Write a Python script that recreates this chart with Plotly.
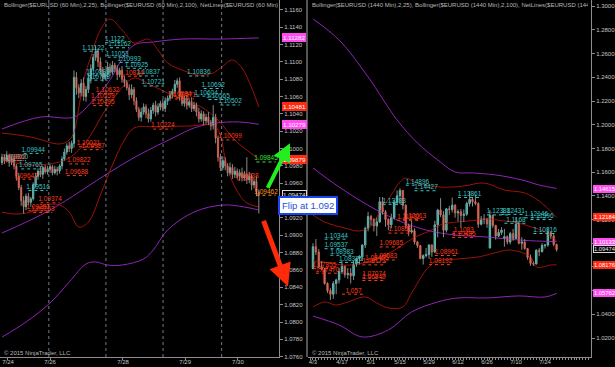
import plotly.graph_objects as go

# ================= LEFT PANEL : EURUSD 60 Min =================
h_first_open = 1.0984
h_close = [1.0990, 1.0986, 1.0992, 1.0984, 1.0988, 1.0980, 1.0968, 1.0955, 1.0940, 1.0933,
           1.0945, 1.0938, 1.0942, 1.0958, 1.0968, 1.0974, 1.0970, 1.0978, 1.0973, 1.0976,
           1.0979, 1.0972, 1.0976, 1.0974, 1.0980, 1.0988, 1.0996, 1.1003, 1.1000, 1.1006,
           1.1082, 1.1070, 1.1064, 1.1075, 1.1060, 1.1068, 1.1080, 1.1092, 1.1105, 1.1112,
           1.1100, 1.1090, 1.1082, 1.1086, 1.1094, 1.1088, 1.1096, 1.1092, 1.1085, 1.1090,
           1.1080, 1.1076, 1.1070, 1.1062, 1.1068, 1.1055, 1.1045, 1.1036, 1.1042, 1.1048,
           1.1040, 1.1034, 1.1044, 1.1050, 1.1042, 1.1048, 1.1052, 1.1046, 1.1055, 1.1058,
           1.1062, 1.1066, 1.1074, 1.1078, 1.1060, 1.1052, 1.1058, 1.1050, 1.1054, 1.1046,
           1.1050, 1.1042, 1.1034, 1.1040, 1.1032, 1.1036, 1.1030, 1.1026, 1.1036, 1.1012,
           1.0990, 1.0978, 1.0986, 1.0980, 1.0972, 1.0978, 1.0970, 1.0974, 1.0968, 1.0972,
           1.0966, 1.0970, 1.0964, 1.0968, 1.0958, 1.0962, 1.0950, 1.0947]
h_wick_up_pips = [4, 3, 5, 2, 4, 3, 2, 4, 3, 5,
                  3, 4, 2, 3, 4, 3, 5, 2, 3, 4,
                  3, 2, 4, 3, 2, 3, 4, 3, 5, 3,
                  8, 6, 4, 5, 7, 4, 6, 5, 4, 6,
                  3, 5, 4, 3, 6, 4, 5, 3, 4, 3,
                  5, 4, 3, 4, 6, 3, 4, 3, 5, 4,
                  3, 6, 4, 3, 5, 4, 3, 5, 4, 3,
                  4, 3, 5, 3, 4, 5, 3, 4, 3, 5,
                  4, 3, 5, 4, 3, 4, 6, 3, 14, 4,
                  3, 4, 5, 4, 3, 6, 4, 5, 3, 4,
                  6, 4, 20, 5, 3, 4, 6, 3]
h_wick_dn_pips = [3, 4, 2, 5, 3, 4, 5, 3, 6, 8,
                  4, 3, 5, 2, 3, 4, 3, 5, 2, 3,
                  4, 3, 2, 5, 3, 4, 2, 3, 4, 5,
                  5, 8, 6, 4, 5, 6, 4, 5, 3, 4,
                  6, 4, 5, 3, 4, 5, 3, 4, 6, 3,
                  4, 5, 3, 6, 4, 5, 3, 4, 5, 3,
                  5, 4, 3, 4, 5, 3, 4, 3, 4, 5,
                  3, 4, 3, 4, 5, 3, 4, 5, 3, 4,
                  3, 5, 4, 3, 5, 4, 3, 5, 4, 6,
                  5, 4, 3, 5, 4, 3, 5, 4, 3, 5,
                  4, 3, 5, 4, 6, 4, 5, 22]
h_tick_pos = [2.5, 20, 50.4, 76.3, 98.3]
h_tick_labels = ["7/24", "7/26", "7/28", "7/29", "7/30"]
h_day_breaks = [19.5, 43.3, 67.1, 91.5]

h_bb25_up_x = [0, 12, 24, 28, 30, 32, 34, 37, 41, 45, 50, 55, 58, 61, 65, 69, 76, 82, 88, 92, 96, 100, 104, 107]
h_bb25_up = [1.10179, 1.10133, 1.10052, 1.10098, 1.10190, 1.10467, 1.10790, 1.11055, 1.11366, 1.11493,
             1.11366, 1.11216, 1.11239, 1.11262, 1.11136, 1.10986, 1.10894, 1.10847, 1.10871, 1.10951,
             1.11020, 1.10928, 1.10698, 1.10479]
h_bb25_mid_x = [0, 12, 24, 28, 32, 37, 41, 46, 51, 55, 62, 69, 76, 83, 90, 97, 107]
h_bb25_mid = [1.09868, 1.09810, 1.09845, 1.09891, 1.09983, 1.10156, 1.10352, 1.10559, 1.10732, 1.10813,
              1.10732, 1.10640, 1.10559, 1.10479, 1.10329, 1.10098, 1.09879]
h_bb25_lo_x = [0, 5, 12, 18, 24, 28, 32, 36, 41, 46, 51, 55, 66, 78, 89, 94, 99, 102, 107]
h_bb25_lo = [1.09268, 1.09245, 1.09268, 1.09349, 1.09349, 1.09268, 1.09095, 1.09153, 1.09464, 1.09810,
             1.10098, 1.10237, 1.10248, 1.10260, 1.10248, 1.09752, 1.09464, 1.09372, 1.09326]
h_bb100_up_x = [0, 16, 30, 37, 45, 49, 55, 63, 75, 91, 107]
h_bb100_up = [1.10225, 1.10363, 1.10363, 1.10525, 1.10790, 1.10986, 1.11193, 1.11228, 1.11262, 1.11262, 1.11275]
h_bb100_mid_x = [0, 20, 45, 57, 72, 80, 89, 99, 107]
h_bb100_mid = [1.09026, 1.09291, 1.09729, 1.09925, 1.10133, 1.10237, 1.10294, 1.10306, 1.10279]
h_bb100_lo_x = [0, 10, 20, 28, 35, 39, 44, 50, 59, 63, 69, 80, 92, 101, 107]
h_bb100_lo = [1.07827, 1.08000, 1.08219, 1.08461, 1.08669, 1.08692, 1.08657, 1.08657, 1.08727, 1.08830,
              1.09061, 1.09268, 1.09349, 1.09326, 1.09291]

h_net_x = [38, 47, 49, 48, 53, 56, 40, 40, 61, 63, 82, 88, 85, 90, 95, 13, 6, 12, 15,
           54, 44, 42, 42, 74, 76, 67, 95, 36, 38, 32, 31, 5, 10, 20, 15, 17, 102,
           110, 110]
h_net_text = ["1.11122", "1.1122", "1.11162", "1.11053", "1.10993", "1.10925", "1.10839", "1.10788",
              "1.10837", "1.10721", "1.10836", "1.10692", "1.10604", "1.10565", "1.10502", "1.09944",
              "1.09860", "1.09765", "1.09516",
              "1.10834", "1.10632", "1.10559", "1.10495", "1.10584", "1.10571", "1.10224", "1.10099",
              "1.10021", "1.09987", "1.09822", "1.09688", "1.09862", "1.09647", "1.09374", "1.09281",
              "1.09263", "1.09638",
              "1.09462", "1.09845"]
h_net_kind = ["c"] * 19 + ["r"] * 18 + ["o", "g"]

h_tag_text = ["1.11282", "1.10481", "1.10279", "1.09879", "1.09474"]
h_tag_kind = ["m", "r", "m", "r", "k"]

# ================= RIGHT PANEL : EURUSD 1440 Min =================
d_dates = ["4/3", "4/6", "4/7", "4/8", "4/9", "4/10", "4/13", "4/14", "4/15", "4/16", "4/17", "4/20",
           "4/21", "4/22", "4/23", "4/24", "4/27", "4/28", "4/29", "4/30", "5/1", "5/4", "5/5", "5/6",
           "5/7", "5/8", "5/11", "5/12", "5/13", "5/14", "5/15", "5/18", "5/19", "5/20", "5/21", "5/22",
           "5/25", "5/26", "5/27", "5/28", "5/29", "6/1", "6/2", "6/3", "6/4", "6/5", "6/8", "6/9",
           "6/10", "6/11", "6/12", "6/15", "6/16", "6/17", "6/18", "6/19", "6/22", "6/23", "6/24",
           "6/25", "6/26", "6/29", "6/30", "7/1", "7/2", "7/3", "7/6", "7/7", "7/8", "7/9", "7/10",
           "7/13", "7/14", "7/15", "7/16", "7/17", "7/20", "7/21", "7/22", "7/23", "7/24", "7/27",
           "7/28", "7/29", "7/30"]
d_open = [1.0785, 1.0970, 1.0925, 1.0800, 1.0780, 1.0660, 1.0600, 1.0570, 1.0660, 1.0690, 1.0760, 1.0805,
          1.0735, 1.0745, 1.0725, 1.0825, 1.0870, 1.0885, 1.0985, 1.1125, 1.1225, 1.1200, 1.1145, 1.1180,
          1.1350, 1.1265, 1.1200, 1.1155, 1.1215, 1.1345, 1.1400, 1.1445, 1.1320, 1.1150, 1.1095, 1.1105,
          1.1010, 1.0980, 1.0870, 1.0895, 1.0905, 1.0985, 1.0925, 1.1155, 1.1280, 1.1240, 1.1110, 1.1290,
          1.1285, 1.1320, 1.1255, 1.1265, 1.1235, 1.1245, 1.1335, 1.1370, 1.1350, 1.1335, 1.1160,
          1.1205, 1.1200, 1.0960, 1.1235, 1.1150, 1.1060, 1.1090, 1.1040, 1.1055, 1.1010, 1.1080, 1.1040,
          1.1160, 1.1000, 1.1010, 1.0955, 1.0880, 1.0830, 1.0825, 1.0940, 1.0930, 1.0980, 1.0985,
          1.1090, 1.1060, 1.0990]
d_high = [1.1000, 1.1035, 1.0950, 1.0850, 1.0790, 1.0670, 1.0620, 1.0680, 1.0700, 1.0790, 1.0850, 1.0810,
          1.0790, 1.0790, 1.0850, 1.0880, 1.0900, 1.0990, 1.1140, 1.1265, 1.1240, 1.1210, 1.1215, 1.1390,
          1.1390, 1.1280, 1.1210, 1.1250, 1.1365, 1.1445, 1.1465, 1.1450, 1.1330, 1.1165, 1.1190, 1.1125,
          1.1020, 1.0985, 1.0905, 1.0960, 1.0990, 1.0990, 1.1190, 1.1290, 1.1380, 1.1270, 1.1295, 1.1315,
          1.1385, 1.1330, 1.1285, 1.1290, 1.1285, 1.1350, 1.1435, 1.1385, 1.1410, 1.1345, 1.1230,
          1.1245, 1.1215, 1.1280, 1.1240, 1.1155, 1.1120, 1.1135, 1.1120, 1.1065, 1.1095, 1.1120, 1.1215,
          1.1190, 1.1050, 1.1035, 1.0960, 1.0905, 1.0845, 1.0950, 1.0960, 1.1000, 1.0990, 1.1130,
          1.1095, 1.1080, 1.0995]
d_low = [1.0780, 1.0900, 1.0790, 1.0770, 1.0650, 1.0580, 1.0520, 1.0530, 1.0570, 1.0660, 1.0740, 1.0710,
         1.0700, 1.0660, 1.0690, 1.0800, 1.0820, 1.0850, 1.0960, 1.1100, 1.1150, 1.1100, 1.1060, 1.1170,
         1.1240, 1.1140, 1.1110, 1.1125, 1.1200, 1.1320, 1.1330, 1.1285, 1.1120, 1.1060, 1.1080, 1.0990,
         1.0960, 1.0865, 1.0820, 1.0880, 1.0870, 1.0885, 1.0920, 1.1050, 1.1220, 1.1050, 1.1090, 1.1240,
         1.1260, 1.1215, 1.1185, 1.1135, 1.1180, 1.1230, 1.1310, 1.1310, 1.1320, 1.1130, 1.1150,
         1.1160, 1.1130, 1.0955, 1.1130, 1.1030, 1.1050, 1.1070, 1.0970, 1.0990, 1.0990, 1.1020, 1.1040,
         1.0990, 1.0945, 1.0945, 1.0860, 1.0810, 1.0808, 1.0820, 1.0890, 1.0920, 1.0955, 1.0970,
         1.1035, 1.0975, 1.0930]
d_close = [1.0970, 1.0925, 1.0800, 1.0780, 1.0660, 1.0600, 1.0570, 1.0660, 1.0690, 1.0760, 1.0805, 1.0735,
           1.0745, 1.0725, 1.0825, 1.0870, 1.0885, 1.0985, 1.1125, 1.1225, 1.1200, 1.1145, 1.1180, 1.1350,
           1.1265, 1.1200, 1.1155, 1.1215, 1.1345, 1.1400, 1.1445, 1.1320, 1.1150, 1.1095, 1.1105, 1.1010,
           1.0980, 1.0870, 1.0895, 1.0905, 1.0985, 1.0925, 1.1155, 1.1280, 1.1240, 1.1110, 1.1290, 1.1285,
           1.1320, 1.1255, 1.1265, 1.1235, 1.1245, 1.1335, 1.1370, 1.1350, 1.1335, 1.1160, 1.1205,
           1.1200, 1.1165, 1.1235, 1.1150, 1.1060, 1.1090, 1.1110, 1.1055, 1.1010, 1.1080, 1.1040, 1.1160,
           1.1000, 1.1010, 1.0955, 1.0880, 1.0830, 1.0825, 1.0940, 1.0930, 1.0980, 1.0985, 1.1090,
           1.1060, 1.0990, 1.0947]
d_tick_labels = ["4/3", "4/17", "5/1", "5/15", "5/29", "6/12", "6/26", "7/10", "7/24"]

d_bb25_up_x = [0, 4, 11, 16, 20, 23, 27, 30, 32, 35, 44, 52, 59, 66, 73, 78, 84]
d_bb25_up = [1.1238, 1.1179, 1.1128, 1.1103, 1.1145, 1.1263, 1.1407, 1.1517, 1.1550, 1.1517, 1.1474,
             1.1483, 1.1508, 1.1449, 1.1424, 1.1356, 1.1218]
d_bb25_mid_x = [0, 4, 11, 16, 20, 24, 28, 31, 35, 40, 44, 50, 55, 60, 65, 70, 75, 80, 84]
d_bb25_mid = [1.0850, 1.0840, 1.0815, 1.0825, 1.0850, 1.0890, 1.0940, 1.0985, 1.1050, 1.1100, 1.1155,
              1.1180, 1.1190, 1.1205, 1.1190, 1.1175, 1.1140, 1.1095, 1.1020]
d_bb25_lo_x = [0, 4, 8, 12, 18, 22, 26, 31, 34, 39, 42, 50, 57, 64, 68, 75, 77, 82, 84]
d_bb25_lo = [1.0462, 1.0504, 1.0478, 1.0504, 1.0546, 1.0496, 1.0453, 1.0462, 1.0580, 1.0774, 1.0842,
             1.0867, 1.0884, 1.0926, 1.0943, 1.0884, 1.0799, 1.0816, 1.0818]
d_bb100_up_x = [0, 9, 19, 29, 36, 43, 49, 55, 63, 72, 78, 84]
d_bb100_up = [1.2892, 1.2715, 1.2403, 1.2040, 1.1846, 1.1703, 1.1601, 1.1593, 1.1576, 1.1534, 1.1491, 1.1462]
d_bb100_mid_x = [0, 9, 20, 29, 39, 49, 60, 72, 84]
d_bb100_mid = [1.1635, 1.1474, 1.1306, 1.1196, 1.1111, 1.1069, 1.1052, 1.1025, 1.1013]
d_bb100_lo_x = [0, 9, 17, 26, 34, 43, 50, 60, 71, 80, 84]
d_bb100_lo = [1.0385, 1.0310, 1.0209, 1.0268, 1.0420, 1.0504, 1.0538, 1.0538, 1.0555, 1.0546, 1.0576]

d_net_x = [36, 39, 28, 54, 64, 69, 77, 79, 70, 80, 8, 8, 10, 13,
           35, 33, 30, 52, 52, 27, 25, 44, 46, 22, 21, 5, 4, 21, 21, 14]
d_net_text = ["1.14896", "1.14427", "1.13283", "1.13861", "1.12388", "1.12431", "1.12146", "1.11996",
              "1.1168", "1.10816", "1.10344", "1.09537", "1.08983", "1.08376",
              "1.12013", "1.11932", "1.10853", "1.1083", "1.10485", "1.09685", "1.08583", "1.08192",
              "1.08961", "1.08405", "1.08173", "1.07470", "1.07855", "1.07074", "1.06849", "1.057"]
d_net_kind = ["c"] * 14 + ["r"] * 16

d_tag_text = ["1.14615", "1.12184", "1.10133", "1.09474", "1.08176", "1.05762"]
d_tag_kind = ["m", "r", "m", "k", "r", "m"]

# ================= styling =================
W, H = 615, 367
FONT = "Liberation Sans"
UP_COL = "#3fd0c4"
DN_COL = "#f23a1c"
WICK_COL = "#8a8a8a"
RED_BAND = "#9c1209"
PURPLE_BAND = "#8f24b8"
AXIS_COL = "#8c8c8c"
TICK_FONT_COL = "#c4c4c4"
KIND_COL = {"c": "#3cc4c4", "r": "#ff3b1d", "o": "#ff9c1a", "g": "#38e838"}
TAG_STYLE = {"m": ("#ff4cf0", "#ff4cf0", "#ffffff"),
             "r": ("#ff2a10", "#ff2a10", "#ffffff"),
             "k": ("#000000", "#d8d8d8", "#e6e6e6")}

fig = go.Figure()


def add_candles(x, o, hi, lo, c, xa, ya):
    wx, wy = [], []
    for xi, l, h in zip(x, lo, hi):
        wx += [xi, xi, None]
        wy += [l, h, None]
    fig.add_trace(go.Scatter(x=wx, y=wy, mode="lines", line=dict(color=WICK_COL, width=1),
                             hoverinfo="skip", xaxis=xa, yaxis=ya))
    fig.add_trace(go.Candlestick(
        x=x, open=o, close=c,
        high=[max(a, b) for a, b in zip(o, c)], low=[min(a, b) for a, b in zip(o, c)],
        increasing=dict(line=dict(color=UP_COL, width=1), fillcolor=UP_COL),
        decreasing=dict(line=dict(color=DN_COL, width=1), fillcolor=DN_COL),
        whiskerwidth=0, xaxis=xa, yaxis=ya, hoverinfo="skip"))


def add_band(x, y, color, xa, ya):
    fig.add_trace(go.Scatter(x=x, y=y, mode="lines", line=dict(color=color, width=1, shape="spline"),
                             hoverinfo="skip", xaxis=xa, yaxis=ya))


def add_netlines(xs, texts, kinds, half, xa, ya):
    for k in ["c", "r", "o", "g"]:
        sel = [(x, t) for x, t, kk in zip(xs, texts, kinds) if kk == k]
        if not sel:
            continue
        lx, ly = [], []
        for x, t in sel:
            lx += [x - half, x + half, None]
            ly += [float(t), float(t), None]
        fig.add_trace(go.Scatter(x=lx, y=ly, mode="lines",
                                 line=dict(color=KIND_COL[k], width=1, dash="dot"),
                                 hoverinfo="skip", xaxis=xa, yaxis=ya))
        fig.add_trace(go.Scatter(x=[x for x, _ in sel], y=[float(t) for _, t in sel], mode="text",
                                 text=[t for _, t in sel], textposition="top center",
                                 textfont=dict(size=6.5, color=KIND_COL[k], family=FONT),
                                 hoverinfo="skip", xaxis=xa, yaxis=ya))


# ---- left panel
h_open = [h_first_open] + h_close[:-1]
h_x = list(range(len(h_close)))
h_high = [max(o, c) + u * 0.0001 for o, c, u in zip(h_open, h_close, h_wick_up_pips)]
h_low = [min(o, c) - d * 0.0001 for o, c, d in zip(h_open, h_close, h_wick_dn_pips)]

add_band(h_bb100_up_x, h_bb100_up, PURPLE_BAND, "x", "y")
add_band(h_bb100_mid_x, h_bb100_mid, PURPLE_BAND, "x", "y")
add_band(h_bb100_lo_x, h_bb100_lo, PURPLE_BAND, "x", "y")
add_band(h_bb25_up_x, h_bb25_up, RED_BAND, "x", "y")
add_band(h_bb25_mid_x, h_bb25_mid, RED_BAND, "x", "y")
add_band(h_bb25_lo_x, h_bb25_lo, RED_BAND, "x", "y")
add_candles(h_x, h_open, h_high, h_low, h_close, "x", "y")
add_netlines(h_net_x, h_net_text, h_net_kind, 4, "x", "y")

# ---- right panel
d_x = list(range(len(d_close)))
add_band(d_bb100_up_x, d_bb100_up, PURPLE_BAND, "x2", "y2")
add_band(d_bb100_mid_x, d_bb100_mid, PURPLE_BAND, "x2", "y2")
add_band(d_bb100_lo_x, d_bb100_lo, PURPLE_BAND, "x2", "y2")
add_band(d_bb25_up_x, d_bb25_up, RED_BAND, "x2", "y2")
add_band(d_bb25_mid_x, d_bb25_mid, RED_BAND, "x2", "y2")
add_band(d_bb25_lo_x, d_bb25_lo, RED_BAND, "x2", "y2")
add_candles(d_x, d_open, d_high, d_low, d_close, "x2", "y2")
add_netlines(d_net_x, d_net_text, d_net_kind, 4, "x2", "y2")

# ---- geometry (pixels -> paper)
Y_DOM = [10 / H, 1]
L_DOM = [0, 279 / W]
R_DOM = [308 / W, 591 / W]

axis_common = dict(showgrid=False, zeroline=False, showline=True, linecolor=AXIS_COL, linewidth=1,
                   ticks="outside", tickcolor=AXIS_COL,
                   tickfont=dict(size=6, color=TICK_FONT_COL, family=FONT), fixedrange=True,
                   automargin=False)

fig.update_layout(
    width=W, height=H, margin=dict(l=0, r=0, t=0, b=0),
    paper_bgcolor="#000000", plot_bgcolor="#000000", showlegend=False,
    xaxis=dict(domain=L_DOM, range=[-0.83, 115.4], tickvals=h_tick_pos, ticktext=h_tick_labels,
               anchor="y", rangeslider=dict(visible=False), ticklen=2, ticklabelstandoff=-3,
               **axis_common),
    yaxis=dict(domain=Y_DOM, range=[1.07597, 1.11712], side="right", anchor="x", ticklen=3,
               tick0=1.076, dtick=0.002, tickformat=".4f", **axis_common),
    xaxis2=dict(domain=R_DOM, range=[-1.72, 95.86],
                tickvals=[d_dates.index(t) for t in d_tick_labels], ticktext=d_tick_labels,
                anchor="y2", rangeslider=dict(visible=False), ticklen=2, ticklabelstandoff=-3,
                minor=dict(dtick=1, ticklen=2, ticks="outside", tickcolor=AXIS_COL),
                **axis_common),
    yaxis2=dict(domain=Y_DOM, range=[1.00397, 1.30523], side="right", anchor="x2", ticklen=3,
                tick0=1.02, dtick=0.02, tickformat=".4f", **axis_common),
)

shapes = []
for b in h_day_breaks:
    shapes.append(dict(type="line", xref="x", yref="paper", x0=b, x1=b, y0=Y_DOM[0], y1=1,
                       line=dict(color="#6d7c8a", width=1, dash="dot")))
shapes.append(dict(type="line", xref="paper", yref="paper", x0=307 / W, x1=307 / W, y0=Y_DOM[0], y1=1,
                   line=dict(color="#a8a8a8", width=1)))
fig.update_layout(shapes=shapes)

ann = []
ann.append(dict(xref="paper", yref="paper", x=2 / W, y=1, xanchor="left", yanchor="top", width=274,
                align="left", showarrow=False, borderpad=1,
                text="Bollinger(&#36;EURUSD (60 Min),2,25), Bollinger(&#36;EURUSD (60 Min),2,100), "
                     "NetLines(&#36;EURUSD (60 Min),3,5,Color [Lime], Color [Red])",
                font=dict(size=6, color="#b8b8b8", family=FONT)))
ann.append(dict(xref="paper", yref="paper", x=310 / W, y=1, xanchor="left", yanchor="top", width=276,
                align="left", showarrow=False, borderpad=1,
                text="Bollinger(&#36;EURUSD (1440 Min),2,25), Bollinger(&#36;EURUSD (1440 Min),2,100), "
                     "NetLines(&#36;EURUSD (1440 Min),3,5,Color [Lime], Color [Red])",
                font=dict(size=6, color="#b8b8b8", family=FONT)))
for xp in (2, 310):
    ann.append(dict(xref="paper", yref="paper", x=xp / W, y=1 - 353 / H, xanchor="left",
                    yanchor="middle", showarrow=False, text="© 2015 NinjaTrader, LLC",
                    font=dict(size=6, color="#b8b8b8", family=FONT)))

for t, k in zip(h_tag_text, h_tag_kind):
    bg, bd, fc = TAG_STYLE[k]
    ann.append(dict(xref="paper", yref="y", x=282 / W, y=float(t), xanchor="left", yanchor="middle",
                    text=t, showarrow=False, bgcolor=bg, bordercolor=bd, borderwidth=1, borderpad=0,
                    font=dict(size=6.2, color=fc, family=FONT)))
for t, k in zip(d_tag_text, d_tag_kind):
    bg, bd, fc = TAG_STYLE[k]
    ann.append(dict(xref="paper", yref="y2", x=593 / W, y=float(t), xanchor="left", yanchor="middle",
                    text=t, showarrow=False, bgcolor=bg, bordercolor=bd, borderwidth=1, borderpad=0,
                    font=dict(size=5.8, color=fc, family=FONT)))

# arrows and flip box
ann.append(dict(xref="paper", yref="y", x=290 / W, y=1.1006, ax=-23, ay=46, text="", showarrow=True,
                arrowhead=2, arrowsize=0.9, arrowwidth=4, arrowcolor="#22ee22"))
ann.append(dict(xref="paper", yref="y", x=288 / W, y=1.0841, ax=-25, ay=-67, text="", showarrow=True,
                arrowhead=2, arrowsize=0.9, arrowwidth=5, arrowcolor="#ff2a0a"))
ann.append(dict(xref="paper", yref="paper", x=308 / W, y=1 - 205 / H, xanchor="center", yanchor="middle",
                text="Flip at 1.092", showarrow=False, bgcolor="#ffffff", bordercolor="#1746f0",
                borderwidth=2, borderpad=2, font=dict(size=9.5, color="#1d4fe0", family=FONT)))
fig.update_layout(annotations=ann)

fig.write_html("out.html")
